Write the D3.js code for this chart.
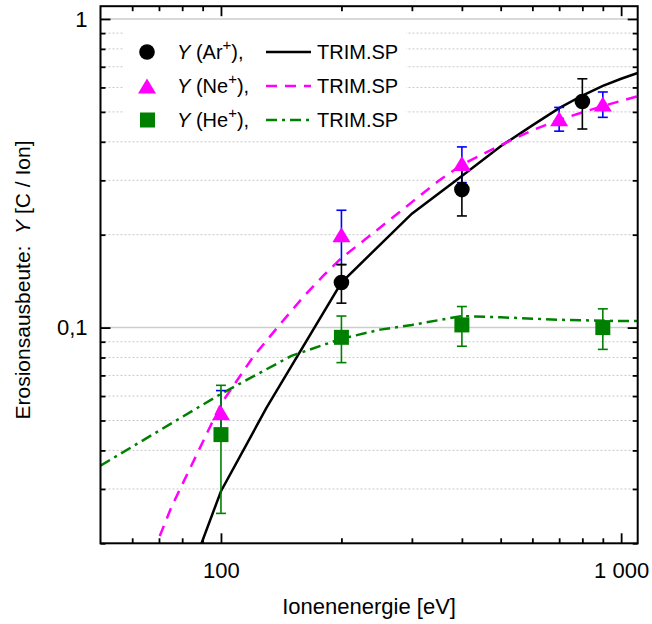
<!DOCTYPE html>
<html><head><meta charset="utf-8">
<script src="https://cdn.jsdelivr.net/npm/d3@7"></script>
<style>body{margin:0;background:#fff} svg text{font-family:"Liberation Sans",Arial,sans-serif;fill:#000}</style>
</head><body><svg id="c" width="652" height="624"></svg>
<script>
// measured points
const arEnergy=[200,400,800];
const arYield=[0.14,0.28,0.54];
const arErr=[0.02,0.05,0.10];
const neEnergy=[100,200,400,700,900];
const neYield=[0.053,0.20,0.34,0.475,0.53];
const neErr=[0.0095,0.04,0.045,0.042,0.05];
const heEnergy=[100,200,400,900];
const heYield=[0.045,0.093,0.102,0.100];
const heErr=[0.020,0.016,0.015,0.015];
// TRIM.SP curves
const trimArE=[80,100,130,200,300,400,500,600,700,800,900,1000,1100];
const trimArY=[0.0136,0.0295,0.055,0.14,0.234,0.31,0.387,0.452,0.514,0.565,0.607,0.64,0.668];
const trimNeE=[65,70,75,80,90,100,120,140,160,180,200,250,300,350,400,500,600,700,800,900,1000,1100];
const trimNeY=[0.0162,0.0208,0.026,0.031,0.0425,0.0565,0.08,0.102,0.125,0.147,0.168,0.211,0.255,0.299,0.337,0.39,0.436,0.471,0.498,0.522,0.543,0.562];
const trimHeE=[50,100,150,200,250,300,400,500,700,1000,1100];
const trimHeY=[0.0357,0.061,0.081,0.092,0.0985,0.102,0.109,0.108,0.106,0.105,0.105];
// ticks
const xMajor=[100,1000];
const xMajorLabels=["100","1 000"];
const xMinor=[60,70,80,90,200,300,400,500,600,700,800,900];
const yMajor=[0.1,1];
const yMajorLabels=["0,1","1"];
const yMinor=[0.02,0.03,0.04,0.05,0.06,0.07,0.08,0.09,0.2,0.3,0.4,0.5,0.6,0.7,0.8,0.9];
const xTitle="Ionenenergie [eV]";
const legendLabels=["Ar","Ne","He"];

const L=100.5,R=637.7,T=6.2,B=543.3;
const x=d3.scaleLog().domain([50,1100]).range([L,R]);
const y=d3.scaleLog().domain([0.02,1.1]).range([B,T]);
const svg=d3.select("#c");
svg.append("defs").append("clipPath").attr("id","clip").append("rect")
  .attr("x",L).attr("y",T).attr("width",R-L).attr("height",B-T);

// grid
const g=svg.append("g");
g.selectAll("line.mn").data(yMinor.filter(v=>v>0.02)).join("line")
  .attr("x1",L).attr("x2",R).attr("y1",d=>y(d)).attr("y2",d=>y(d))
  .attr("stroke","#c8c8c8").attr("stroke-width",1).attr("stroke-dasharray","2,2");
g.selectAll("line.mj").data(yMajor).join("line")
  .attr("x1",L).attr("x2",R).attr("y1",d=>y(d)).attr("y2",d=>y(d))
  .attr("stroke","#cdcdcd").attr("stroke-width",1.5);

// legend background
svg.append("rect").attr("x",124).attr("y",30).attr("width",282).attr("height",110).attr("fill","#fff");

// curves
const line=d3.line().x(d=>x(d[0])).y(d=>y(d[1]));
const cg=svg.append("g").attr("clip-path","url(#clip)");
const curves=[
 {e:trimArE,v:trimArY,c:"#000",dash:null},
 {e:trimNeE,v:trimNeY,c:"#ff00ff",dash:"11,8"},
 {e:trimHeE,v:trimHeY,c:"#008000",dash:"11,5,3,5"}];
curves.forEach(cv=>{
  cg.append("path").datum(cv.e.map((e,i)=>[e,cv.v[i]])).attr("d",line)
   .attr("fill","none").attr("stroke",cv.c).attr("stroke-width",2.5)
   .attr("stroke-dasharray",cv.dash);
});

// error bars
function errBars(E,Y,Er,col){
  const eg=svg.append("g").attr("stroke",col).attr("stroke-width",1.6).attr("fill","none");
  E.forEach((e,i)=>{
    const xx=x(e),y1=y(Y[i]+Er[i]),y0=y(Y[i]-Er[i]);
    eg.append("line").attr("x1",xx).attr("x2",xx).attr("y1",y1).attr("y2",y0);
    eg.append("line").attr("x1",xx-5).attr("x2",xx+5).attr("y1",y1).attr("y2",y1);
    eg.append("line").attr("x1",xx-5).attr("x2",xx+5).attr("y1",y0).attr("y2",y0);
  });
}
errBars(neEnergy,neYield,neErr,"#0000ff");
errBars(arEnergy,arYield,arErr,"#000");
errBars(heEnergy,heYield,heErr,"#008000");

const triPath="M0,-7.5L9,7.5L-9,7.5Z";
svg.append("g").selectAll("circle").data(arEnergy).join("circle")
  .attr("cx",d=>x(d)).attr("cy",(d,i)=>y(arYield[i])).attr("r",7.8).attr("fill","#000");
svg.append("g").selectAll("path").data(neEnergy).join("path")
  .attr("d",triPath).attr("transform",(d,i)=>`translate(${x(d)},${y(neYield[i])})`).attr("fill","#ff00ff");
svg.append("g").selectAll("rect").data(heEnergy).join("rect")
  .attr("x",d=>x(d)-7.5).attr("y",(d,i)=>y(heYield[i])-7.5).attr("width",15).attr("height",15).attr("fill","#008000");

// axes
function ax(gen,tr,vals,size,fmt,pad){
  const a=svg.append("g").attr("transform",tr)
   .call(gen.tickValues(vals).tickSizeInner(size).tickSizeOuter(0).tickPadding(pad).tickFormat(fmt));
  a.select(".domain").remove();
  a.selectAll(".tick line").attr("stroke","#000").attr("stroke-width",1.8);
  a.selectAll("text").attr("font-size",22).style("font-family","'Liberation Sans',Arial,sans-serif");
  return a;
}
ax(d3.axisBottom(x),`translate(0,${B})`,xMajor,-10,(d,i)=>xMajorLabels[i],19);
ax(d3.axisBottom(x),`translate(0,${B})`,xMinor,-5,()=>"",0);
ax(d3.axisTop(x),`translate(0,${T})`,xMajor,-10,()=>"",0);
ax(d3.axisTop(x),`translate(0,${T})`,xMinor,-5,()=>"",0);
ax(d3.axisLeft(y),`translate(${L},0)`,yMajor,-10,(d,i)=>yMajorLabels[i],13);
ax(d3.axisLeft(y),`translate(${L},0)`,yMinor,-5,()=>"",0);
ax(d3.axisRight(y),`translate(${R},0)`,yMajor,-10,()=>"",0);
ax(d3.axisRight(y),`translate(${R},0)`,yMinor,-5,()=>"",0);

svg.append("rect").attr("x",L).attr("y",T).attr("width",R-L).attr("height",B-T)
  .attr("fill","none").attr("stroke","#000").attr("stroke-width",2);

// titles
svg.append("text").attr("x",(L+R)/2).attr("y",614).attr("text-anchor","middle")
  .attr("font-size",22).text(xTitle);
const yt=svg.append("text").attr("transform",`translate(30,280) rotate(-90)`)
  .attr("text-anchor","middle").attr("font-size",21).attr("xml:space","preserve");
yt.append("tspan").text("Erosionsausbeute:  ");
yt.append("tspan").attr("font-style","italic").text("Y");
yt.append("tspan").text(" [C / Ion]");

// legend
const rows=[52,86,120];
const lg=svg.append("g");
lg.append("circle").attr("cx",147).attr("cy",rows[0]).attr("r",7.8).attr("fill","#000");
lg.append("path").attr("d",triPath).attr("transform",`translate(147,${rows[1]})`).attr("fill","#ff00ff");
lg.append("rect").attr("x",140).attr("y",rows[2]-7.5).attr("width",15).attr("height",15).attr("fill","#008000");
legendLabels.forEach((lab,i)=>{
  const t=lg.append("text").attr("x",177).attr("y",rows[i]+7).attr("font-size",20);
  t.append("tspan").attr("font-style","italic").text("Y");
  t.append("tspan").text(" ("+lab);
  t.append("tspan").attr("dy",-9).attr("font-size",15).text("+");
  t.append("tspan").attr("dy",9).text("),");
  lg.append("line").attr("x1",266).attr("x2",311).attr("y1",rows[i]).attr("y2",rows[i])
    .attr("stroke",curves[i].c).attr("stroke-width",2.5).attr("stroke-dasharray",curves[i].dash);
  lg.append("text").attr("x",317).attr("y",rows[i]+7).attr("font-size",20).text("TRIM.SP");
});
</script></body></html>
